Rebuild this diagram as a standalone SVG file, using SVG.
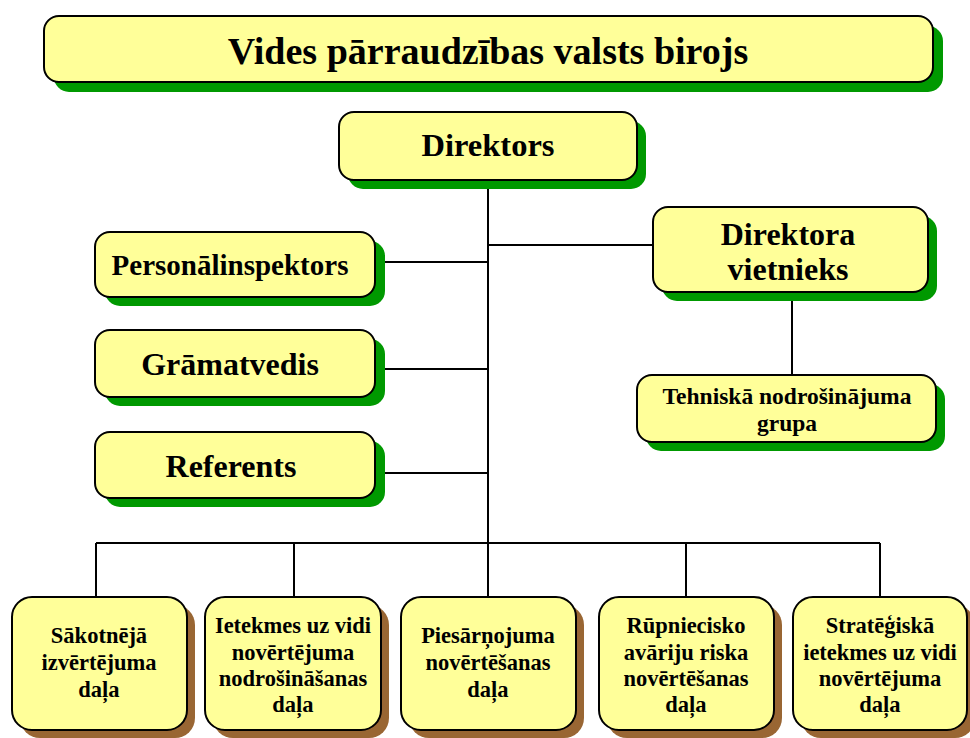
<svg xmlns="http://www.w3.org/2000/svg" width="970" height="738" viewBox="0 0 970 738">
<style>
.box{fill:#FFFF99;stroke:#000;stroke-width:2}
.sg{fill:#009900}
.sb{fill:#996633}
.t{font-family:"Liberation Serif","Times New Roman",serif;font-weight:bold;fill:#000;text-anchor:middle}
.s{font-size:22.5px}
.c{stroke:#000;stroke-width:2;fill:none}
</style>
<rect width="970" height="738" fill="#fff"/>
<g id="connectors">
<path class="c" d="M488 180V543M96 543H880M96 543V597M294 543V597M488 543V597M686 543V597M880 543V597M488 245H653M385 262H488M385 369H488M385 473H488M792 292V375"/>
</g>
<g id="title">
<rect class="sg" x="54" y="26" width="889" height="66" rx="15"/>
<rect class="box" x="44" y="16" width="889" height="66" rx="15"/>
<text class="t" x="488" y="64" font-size="38">Vides pārraudzības valsts birojs</text>
</g>
<g id="direktors">
<rect class="sg" x="348" y="121" width="298" height="68" rx="15"/>
<rect class="box" x="339" y="112" width="298" height="68" rx="15"/>
<text class="t" x="488" y="156" font-size="32.5">Direktors</text>
</g>
<g id="vietnieks">
<rect class="sg" x="662" y="216" width="275" height="85" rx="15"/>
<rect class="box" x="653" y="207" width="275" height="85" rx="15"/>
<text class="t" x="788" y="245" font-size="32">Direktora</text>
<text class="t" x="788" y="280" font-size="32">vietnieks</text>
</g>
<g id="personalinspektors">
<rect class="sg" x="105" y="241" width="280" height="65" rx="15"/>
<rect class="box" x="95" y="232" width="280" height="65" rx="15"/>
<text class="t" x="230" y="275" font-size="29">Personālinspektors</text>
</g>
<g id="gramatvedis">
<rect class="sg" x="105" y="339" width="280" height="67" rx="15"/>
<rect class="box" x="95" y="330" width="280" height="67" rx="15"/>
<text class="t" x="230" y="375" font-size="32">Grāmatvedis</text>
</g>
<g id="referents">
<rect class="sg" x="105" y="441" width="280" height="66" rx="15"/>
<rect class="box" x="95" y="432" width="280" height="66" rx="15"/>
<text class="t" x="231" y="477" font-size="32">Referents</text>
</g>
<g id="tehniska">
<rect class="sg" x="646" y="384" width="299" height="67" rx="15"/>
<rect class="box" x="637" y="375" width="299" height="67" rx="15"/>
<text class="t" x="787" y="404" font-size="23.5">Tehniskā nodrošinājuma</text>
<text class="t" x="787" y="431" font-size="23.5">grupa</text>
</g>
<g id="sakotneja">
<rect class="sb" x="20" y="605" width="175" height="133" rx="20"/>
<rect class="box" x="12" y="597" width="175" height="133" rx="20"/>
<text class="t s" x="99" y="643">Sākotnējā</text>
<text class="t s" x="99" y="670">izvērtējuma</text>
<text class="t s" x="99" y="697">daļa</text>
</g>
<g id="ietekmes">
<rect class="sb" x="213" y="605" width="176" height="133" rx="20"/>
<rect class="box" x="205" y="597" width="176" height="133" rx="20"/>
<text class="t s" x="293" y="633">Ietekmes uz vidi</text>
<text class="t s" x="293" y="660">novērtējuma</text>
<text class="t s" x="293" y="686">nodrošināšanas</text>
<text class="t s" x="293" y="712">daļa</text>
</g>
<g id="piesarnojuma">
<rect class="sb" x="409" y="605" width="175" height="133" rx="20"/>
<rect class="box" x="401" y="597" width="175" height="133" rx="20"/>
<text class="t s" x="488" y="643">Piesārņojuma</text>
<text class="t s" x="488" y="670">novērtēšanas</text>
<text class="t s" x="488" y="697">daļa</text>
</g>
<g id="rupniecisko">
<rect class="sb" x="607" y="605" width="175" height="133" rx="20"/>
<rect class="box" x="599" y="597" width="175" height="133" rx="20"/>
<text class="t s" x="686" y="633">Rūpniecisko</text>
<text class="t s" x="686" y="660">avāriju riska</text>
<text class="t s" x="686" y="686">novērtēšanas</text>
<text class="t s" x="686" y="712">daļa</text>
</g>
<g id="strategiska">
<rect class="sb" x="801" y="605" width="174" height="133" rx="20"/>
<rect class="box" x="793" y="597" width="174" height="133" rx="20"/>
<text class="t s" x="880" y="633">Stratēģiskā</text>
<text class="t s" x="880" y="660">ietekmes uz vidi</text>
<text class="t s" x="880" y="686">novērtējuma</text>
<text class="t s" x="880" y="712">daļa</text>
</g>
</svg>
